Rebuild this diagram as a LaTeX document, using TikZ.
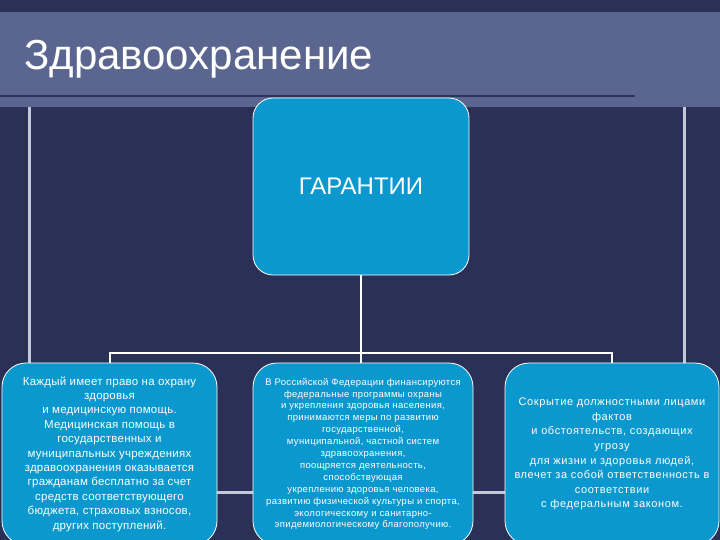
\documentclass[tikz,border=0pt]{standalone}
\usepackage{fontspec}
\setmainfont{Liberation Sans}
\definecolor{bg}{RGB}{43,49,86}
\definecolor{band}{RGB}{90,102,144}
\definecolor{bandline}{RGB}{46,54,96}
\definecolor{deco}{RGB}{196,200,220}
\definecolor{boxfill}{RGB}{10,152,206}
\begin{document}
\begin{tikzpicture}[x=1pt,y=-1pt,
  box/.style={draw=white, line width=0.8pt, fill=boxfill, rounded corners=24pt,
    text=white, align=center, inner sep=0pt},
  conn/.style={draw=white, line width=2pt},
  decoline/.style={draw=deco, line width=3pt}]
\useasboundingbox (0,0) rectangle (720,540);
\fill[bg] (0,0) rectangle (720,540);
\fill[band] (0,12) rectangle (720,107);
\draw[bandline, line width=2.5pt] (0,96) -- (635,96);
\draw[decoline] (29,107) -- (29,492) -- (684,492) -- (684,107);
\node[anchor=base west, inner sep=0pt, text=white, font=\fontsize{42}{48}\selectfont] (title) at (24,70) {Здравоохранение};

\node[box, rounded corners=20pt, minimum width=216pt, minimum height=177pt, font=\fontsize{24}{28}\selectfont] (top) at (361,186.5) {ГАРАНТИИ};

\node[box, minimum width=215pt, minimum height=182pt, font=\fontsize{11.5}{14.4}\selectfont\addfontfeature{LetterSpace=2}] (left) at (109.5,454) {Каждый имеет право на охрану\\здоровья\\и медицинскую помощь.\\Медицинская помощь в\\государственных и\\муниципальных учреждениях\\здравоохранения оказывается\\гражданам бесплатно за счет\\средств соответствующего\\бюджета, страховых взносов,\\других поступлений.};

\node[box, minimum width=220pt, minimum height=182pt, font=\fontsize{9.5}{11.9}\selectfont\addfontfeature{LetterSpace=3.5}] (mid) at (363,454) {В Российской Федерации финансируются\\федеральные программы охраны\\и укрепления здоровья населения,\\принимаются меры по развитию\\государственной,\\муниципальной, частной систем\\здравоохранения,\\поощряется деятельность,\\способствующая\\укреплению здоровья человека,\\развитию физической культуры и спорта,\\экологическому и санитарно-\\эпидемиологическому благополучию.};

\node[box, minimum width=214pt, minimum height=182pt, font=\fontsize{11}{14.6}\selectfont\addfontfeature{LetterSpace=5.5}] (right) at (612,454) {Сокрытие должностными лицами\\фактов\\и обстоятельств, создающих\\угрозу\\для жизни и здоровья людей,\\влечет за собой ответственность в\\соответствии\\с федеральным законом.};

\coordinate (j) at (361,353);
\draw[conn] (top.south) -- (j);
\draw[conn] (j) -| (left.north);
\draw[conn] (j) -| (right.north);
\draw[conn] (j) -- (j |- mid.north);
\end{tikzpicture}
\end{document}
